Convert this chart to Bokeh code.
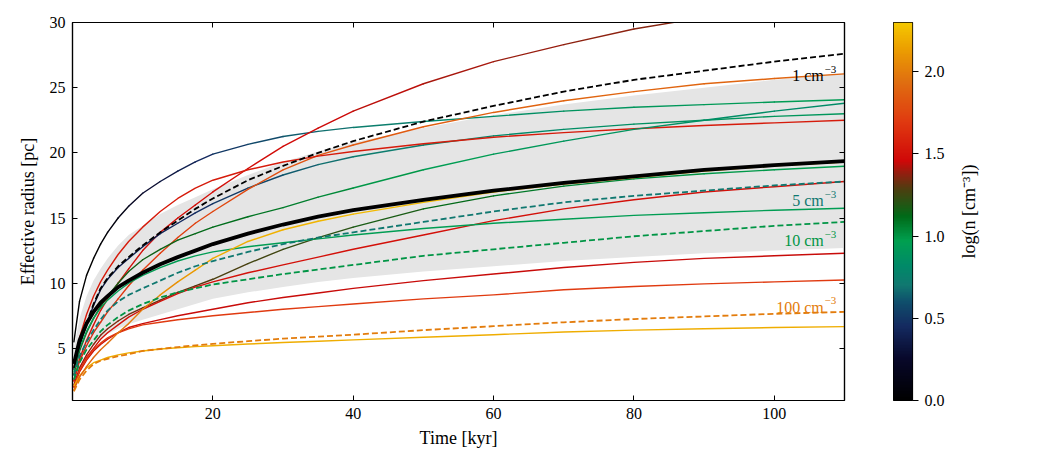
import numpy as np
from bokeh.plotting import figure
from bokeh.layouts import row
from bokeh.models import (Range1d, LinearAxis, FixedTicker,
                          LinearColorMapper, PrintfTickFormatter)
from bokeh.core.properties import value
from bokeh.embed import file_html
from bokeh.resources import INLINE

# ---------------------------------------------------------------- data
t_kyr = [0.2, 1, 2, 3, 4, 5, 6.5, 8, 10, 12.5, 15, 17.5, 20, 25, 30, 35, 40, 50, 60, 70, 80, 90, 100, 110]

# ensemble mean and 1-sigma envelope
mean_r = [3.8, 5.6, 6.9, 7.8, 8.5, 9.0, 9.7, 10.2, 10.8, 11.45, 12.0, 12.5, 13.0, 13.8, 14.5, 15.1, 15.6, 16.4, 17.1, 17.7, 18.2, 18.7, 19.05, 19.36]
band_hi = [5.0, 7.3, 9.0, 10.2, 11.1, 11.9, 12.9, 13.7, 14.4, 15.3, 16.0, 16.6, 17.2, 18.3, 19.3, 20.1, 20.8, 21.9, 22.9, 23.7, 24.4, 25.0, 25.6, 26.1]
band_lo = [2.6, 3.9, 4.8, 5.4, 5.8, 6.1, 6.5, 6.85, 7.2, 7.6, 8.0, 8.4, 8.8, 9.3, 9.7, 10.1, 10.4, 10.9, 11.3, 11.7, 12.0, 12.3, 12.5, 12.7]

# individual remnants: radius [pc] and log density along the track
r_fast = [5.5, 8.6, 10.6, 11.9, 13.0, 13.9, 15.0, 15.9, 16.9, 17.8, 18.6, 19.3, 19.9, 20.65, 21.25, 21.65, 21.95, 22.4, 22.8, 23.2, 23.5, 23.7, 23.9, 24.07]
n_fast = [0.0, 0.0, 0.0, 0.0, 0.02, 0.05, 0.1, 0.16, 0.24, 0.31, 0.37, 0.42, 0.47, 0.55, 0.6, 0.66, 0.7, 0.78, 0.83, 0.87, 0.9, 0.92, 0.94, 0.95]

r_steep = [2.5, 4.2, 5.6, 6.8, 7.9, 8.8, 10.0, 11.1, 12.5, 13.9, 15.0, 16.0, 17.0, 18.8, 20.5, 21.9, 23.2, 25.3, 27.0, 28.3, 29.5, 30.4, 31.2, 31.9]
n_steep = [1.5, 1.5, 1.5, 1.5, 1.5, 1.5, 1.5, 1.5, 1.5, 1.5, 1.5, 1.5, 1.5, 1.49, 1.48, 1.46, 1.45, 1.42, 1.4, 1.38, 1.37, 1.36, 1.35, 1.35]

r_navy = [3.4, 5.2, 6.8, 8.3, 9.5, 10.3, 11.2, 11.9, 12.8, 13.8, 14.6, 15.4, 16.1, 17.3, 18.3, 19.1, 19.7, 20.6, 21.3, 21.8, 22.2, 22.5, 22.8, 23.0]
n_navy = [0.15, 0.25, 0.3, 0.33, 0.35, 0.36, 0.37, 0.38, 0.4, 0.42, 0.43, 0.46, 0.48, 0.54, 0.6, 0.66, 0.7, 0.76, 0.8, 0.83, 0.86, 0.88, 0.9, 0.9]

r_orange = [2.5, 4.0, 5.2, 6.2, 7.0, 7.8, 8.8, 9.8, 11.0, 12.3, 13.5, 14.6, 15.5, 17.2, 18.7, 19.8, 20.6, 22.0, 23.1, 24.0, 24.7, 25.3, 25.7, 26.06]
n_orange = [1.6, 1.6, 1.62, 1.64, 1.65, 1.66, 1.67, 1.68, 1.7, 1.71, 1.72, 1.74, 1.75, 1.78, 1.8, 1.82, 1.84, 1.86, 1.88, 1.9, 1.9, 1.9, 1.9, 1.9]

r_redflat = [3.5, 5.8, 7.6, 9.0, 10.1, 11.0, 12.2, 13.2, 14.3, 15.5, 16.5, 17.3, 17.9, 18.7, 19.3, 19.75, 20.1, 20.7, 21.2, 21.55, 21.85, 22.1, 22.3, 22.5]
n_redflat = 1.55

r_olive = [3.0, 4.8, 6.2, 7.3, 8.2, 9.0, 10.0, 10.9, 11.8, 12.6, 13.3, 13.8, 14.3, 15.1, 15.8, 16.6, 17.3, 18.7, 19.9, 20.9, 21.8, 22.5, 23.2, 23.8]
n_olive = [1.22, 1.22, 1.2, 1.2, 1.19, 1.18, 1.17, 1.17, 1.16, 1.15, 1.14, 1.13, 1.12, 1.1, 1.08, 1.05, 1.02, 0.97, 0.93, 0.9, 0.87, 0.85, 0.83, 0.82]

r_yellow = [1.8, 2.8, 3.6, 4.3, 4.9, 5.4, 6.2, 6.9, 8.0, 9.1, 10.1, 11.0, 11.9, 13.2, 14.1, 14.75, 15.3, 16.2, 17.0, 17.6, 18.1, 18.6, 19.0, 19.3]
n_yellow = [1.85, 1.88, 1.9, 1.92, 1.94, 1.95, 1.97, 1.99, 2.02, 2.06, 2.1, 2.14, 2.18, 2.21, 2.22, 2.23, 2.24, 2.25, 2.25, 2.25, 2.25, 2.25, 2.25, 2.25]

r_brown = [2.2, 3.5, 4.5, 5.3, 6.0, 6.5, 7.1, 7.6, 8.1, 8.7, 9.3, 9.8, 10.3, 11.5, 12.6, 13.5, 14.3, 15.7, 16.7, 17.45, 18.0, 18.4, 18.7, 18.97]
n_brown = [1.4, 1.4, 1.38, 1.37, 1.36, 1.35, 1.345, 1.34, 1.33, 1.32, 1.31, 1.3, 1.29, 1.27, 1.25, 1.22, 1.2, 1.15, 1.1, 1.06, 1.03, 1.0, 0.98, 0.97]

r_redmid = [2.0, 3.3, 4.3, 5.0, 5.7, 6.2, 6.8, 7.4, 8.0, 8.6, 9.2, 9.7, 10.1, 10.8, 11.4, 12.0, 12.6, 13.7, 14.8, 15.7, 16.4, 17.0, 17.4, 17.8]
n_redmid = 1.5

r_green = [3.2, 5.0, 6.3, 7.3, 8.1, 8.7, 9.4, 10.0, 10.6, 11.2, 11.7, 12.1, 12.4, 12.8, 13.1, 13.4, 13.7, 14.2, 14.6, 14.9, 15.2, 15.4, 15.6, 15.75]
n_green = 0.95

r_darkred = [2.0, 3.2, 4.1, 4.8, 5.3, 5.7, 6.2, 6.6, 6.9, 7.2, 7.5, 7.75, 8.0, 8.5, 8.9, 9.25, 9.6, 10.2, 10.7, 11.2, 11.6, 11.9, 12.1, 12.3]
n_darkred = 1.45

r_redorange = [2.0, 3.3, 4.2, 4.9, 5.4, 5.8, 6.2, 6.5, 6.8, 7.0, 7.2, 7.35, 7.5, 7.75, 8.0, 8.2, 8.4, 8.8, 9.1, 9.5, 9.75, 9.95, 10.1, 10.25]
n_redorange = 1.7

r_yellow_low = [2.1, 2.9, 3.5, 3.9, 4.1, 4.3, 4.5, 4.65, 4.8, 4.95, 5.05, 5.13, 5.2, 5.33, 5.45, 5.55, 5.65, 5.85, 6.05, 6.25, 6.4, 6.5, 6.6, 6.67]
n_yellow_low = 2.2

# uniform-density reference models (dashed)
r_n1 = [3.5, 5.3, 6.9, 8.4, 9.6, 10.4, 11.3, 12.0, 12.9, 13.9, 14.8, 15.7, 16.5, 17.9, 19.0, 20.0, 20.9, 22.4, 23.6, 24.7, 25.6, 26.3, 27.0, 27.6]
r_n5 = [2.9, 4.4, 5.5, 6.4, 7.2, 7.9, 8.6, 9.1, 9.6, 10.2, 10.8, 11.3, 11.7, 12.4, 13.0, 13.5, 13.9, 14.7, 15.5, 16.2, 16.7, 17.1, 17.5, 17.8]
r_n10 = [2.6, 3.9, 4.9, 5.6, 6.3, 6.8, 7.4, 7.9, 8.4, 8.9, 9.3, 9.6, 9.9, 10.3, 10.7, 11.05, 11.4, 12.1, 12.6, 13.1, 13.6, 14.0, 14.4, 14.7]
r_n100 = [1.7, 2.6, 3.3, 3.8, 4.05, 4.2, 4.4, 4.55, 4.8, 4.95, 5.1, 5.23, 5.35, 5.55, 5.75, 5.9, 6.05, 6.4, 6.7, 7.0, 7.25, 7.45, 7.65, 7.8]
dens_logn = [0.0, 0.699, 1.0, 2.0]
dens_text = ["1 cm", "5 cm", "10 cm", "100 cm"]
dens_sup = ["\u22123"] * 4
dens_text_r = [25.93, 16.34, 13.27, 8.15]

x_ticks = [20, 40, 60, 80, 100]
y_ticks = [5, 10, 15, 20, 25, 30]
cbar_ticks = [0.0, 0.5, 1.0, 1.5, 2.0]

# ---------------------------------------------------------------- colour map
cmap_pos = [0.0, 0.25, 0.45, 0.60, 0.70, 0.82, 0.97, 1.12, 1.28, 1.38, 1.46, 1.70, 1.95, 2.15, 2.30]
cmap_hex = ["#000000", "#08082a", "#142a60", "#0f4f6c", "#107870", "#008a68", "#00a050", "#006a18",
            "#4a4010", "#902010", "#d00808", "#e03a10", "#e07010", "#eca000", "#f5c800"]


def logn_color(v):
    rgb = [np.interp(v, cmap_pos, [int(h[i:i + 2], 16) for h in cmap_hex]) for i in (1, 3, 5)]
    return "#%02x%02x%02x" % tuple(int(round(c)) for c in rgb)


FONT = "Liberation Serif"

# ---------------------------------------------------------------- main panel
p = figure(frame_width=772, frame_height=378,
           x_range=Range1d(0, 110), y_range=Range1d(1, 30),
           output_backend="svg", toolbar_location=None,
           x_axis_location=None, y_axis_location=None,
           min_border_left=72, min_border_right=49,
           min_border_top=22, min_border_bottom=50)
p.grid.visible = False
p.outline_line_color = "black"
p.outline_line_width = 1.2
p.background_fill_color = "white"
p.border_fill_color = "white"

p.varea(x=t_kyr, y1=band_lo, y2=band_hi, fill_color="#e5e5e5")

tracks = [
    (r_fast, n_fast), (r_steep, n_steep), (r_navy, n_navy), (r_orange, n_orange),
    (r_redflat, n_redflat), (r_olive, n_olive), (r_brown, n_brown),
    (r_redmid, n_redmid), (r_green, n_green), (r_darkred, n_darkred),
    (r_redorange, n_redorange), (r_yellow_low, n_yellow_low), (r_yellow, n_yellow),
]
for r_vals, ln in tracks:
    if isinstance(ln, list):
        xs = [[t_kyr[i], t_kyr[i + 1]] for i in range(len(t_kyr) - 1)]
        ys = [[r_vals[i], r_vals[i + 1]] for i in range(len(t_kyr) - 1)]
        cols = [logn_color(0.5 * (ln[i] + ln[i + 1])) for i in range(len(t_kyr) - 1)]
        p.multi_line(xs=xs, ys=ys, line_color=cols, line_width=1.4, line_cap="round")
    else:
        p.line(t_kyr, r_vals, line_color=logn_color(ln), line_width=1.4, line_join="round")

for r_vals, ln in zip([r_n1, r_n5, r_n10, r_n100], dens_logn):
    p.line(t_kyr, r_vals, line_color=logn_color(ln), line_width=1.8, line_dash="6 3")

p.line(t_kyr, mean_r, line_color="black", line_width=3.8, line_join="round")

# density labels: "n cm" plus a raised "-3"
dens_cols = [logn_color(v) for v in dens_logn]
p.text(x=[107.05] * 4, y=dens_text_r, text=dens_text, text_color=dens_cols,
       text_align="right", text_baseline="alphabetic",
       text_font=value(FONT), text_font_size="16px")
p.text(x=[107.15] * 4, y=[r + 0.5 for r in dens_text_r], text=dens_sup, text_color=dens_cols,
       text_align="left", text_baseline="alphabetic",
       text_font=value(FONT), text_font_size="11px")


def style_axis(ax, ticks, show_labels):
    ax.ticker = FixedTicker(ticks=ticks)
    ax.major_tick_in = 5
    ax.major_tick_out = 0
    ax.minor_tick_in = 0
    ax.minor_tick_out = 0
    ax.axis_line_color = "black"
    ax.axis_line_width = 1.2
    ax.major_tick_line_color = "black"
    ax.major_tick_line_width = 1
    ax.major_label_text_font = FONT
    ax.major_label_text_font_size = "16px"
    ax.major_label_text_color = "black" if show_labels else None
    ax.major_label_standoff = 7
    ax.axis_label_text_font = FONT
    ax.axis_label_text_font_size = "18px"
    ax.axis_label_text_font_style = "normal"
    ax.axis_label_text_color = "black"


xb = LinearAxis(axis_label="Time [kyr]")
style_axis(xb, x_ticks, True)
xb.axis_label_standoff = 6
p.add_layout(xb, "below")

yl = LinearAxis(axis_label="Effective radius [pc]")
style_axis(yl, y_ticks, True)
yl.axis_label_standoff = 9
p.add_layout(yl, "left")

xt = LinearAxis()
style_axis(xt, x_ticks, False)
p.add_layout(xt, "above")

yr = LinearAxis()
style_axis(yr, y_ticks, False)
p.add_layout(yr, "right")

# ---------------------------------------------------------------- colour bar
palette = [logn_color(v) for v in np.linspace(0, 2.3, 256)]
mapper = LinearColorMapper(palette=palette, low=0, high=2.3)

cb = figure(frame_width=19, frame_height=378,
            x_range=Range1d(0, 1), y_range=Range1d(0, 2.3),
            output_backend="svg", toolbar_location=None,
            x_axis_location=None, y_axis_location=None,
            min_border_left=0, min_border_right=40,
            min_border_top=22, min_border_bottom=50)
cb.grid.visible = False
cb.outline_line_color = "black"
cb.outline_line_width = 1.2
gradient = np.linspace(0, 2.3, 512).reshape(-1, 1)
cb.image(image=[gradient], x=0, y=0, dw=1, dh=2.3, color_mapper=mapper)

ca = LinearAxis(formatter=PrintfTickFormatter(format="%.1f"))
ca.ticker = FixedTicker(ticks=cbar_ticks)
ca.major_tick_in = 0
ca.major_tick_out = 6
ca.minor_tick_in = 0
ca.minor_tick_out = 0
ca.axis_line_color = None
ca.major_tick_line_color = "black"
ca.major_tick_line_width = 1.2
ca.major_label_text_font = FONT
ca.major_label_text_font_size = "16px"
ca.major_label_text_color = "black"
ca.major_label_standoff = 6
cb.add_layout(ca, "right")

# colour-bar title, set as a left-side axis label so it reads bottom to top
lab = figure(frame_width=1, frame_height=378,
             x_range=Range1d(0, 1), y_range=Range1d(0, 2.3),
             output_backend="svg", toolbar_location=None,
             x_axis_location=None, y_axis_location=None,
             min_border_left=28, min_border_right=57,
             min_border_top=22, min_border_bottom=50)
lab.grid.visible = False
lab.outline_line_color = None
la = LinearAxis(axis_label="log(n [cm⁻³])")
la.ticker = FixedTicker(ticks=[])
la.major_tick_in = 0
la.major_tick_out = 0
la.minor_tick_in = 0
la.minor_tick_out = 0
la.axis_line_color = None
la.axis_label_standoff = 2
la.axis_label_text_font = FONT
la.axis_label_text_font_size = "18px"
la.axis_label_text_font_style = "normal"
la.axis_label_text_color = "black"
lab.add_layout(la, "left")

layout = row(p, cb, lab)
open("out.html", "w").write(file_html(layout, INLINE))
